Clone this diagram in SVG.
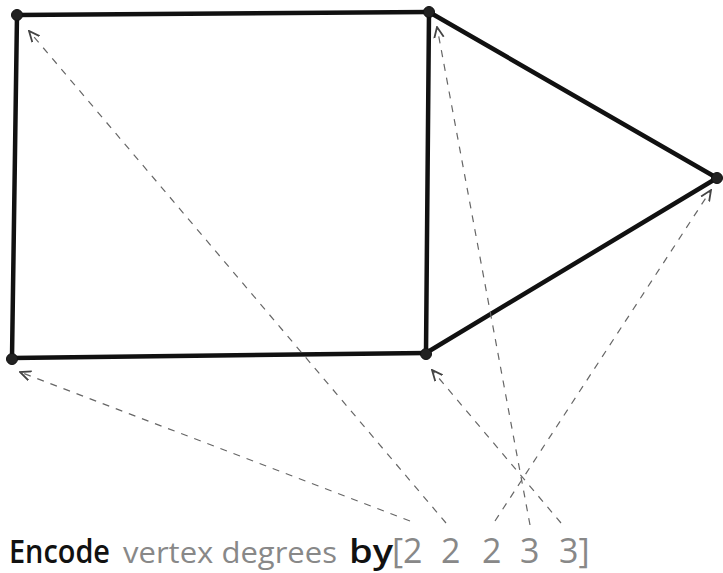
<svg xmlns="http://www.w3.org/2000/svg" width="723" height="573" viewBox="0 0 723 573">
<defs>
<style>
.edge{stroke:#111;stroke-width:4.5;stroke-linecap:round;fill:none}
.node{fill:#222;stroke:#111;stroke-width:1}
.arr{stroke:#666;stroke-width:1.2;stroke-dasharray:7 7;fill:none;marker-end:url(#ah)}
.t{font-family:"Open Sans","Noto Sans",sans-serif}
.dark{fill:#111;font-weight:600}
.light{fill:#888;font-weight:400}
</style>
<marker id="ah" viewBox="0 0 10 10" refX="9" refY="5" markerWidth="12" markerHeight="12" markerUnits="userSpaceOnUse" orient="auto">
<path d="M0,1 L9,5 L0,9" fill="none" stroke="#444" stroke-width="1.5"/>
</marker>
</defs>
<rect width="723" height="573" fill="#fff"/>
<g id="edges">
<line class="edge" x1="17" y1="15" x2="429" y2="12"/>
<line class="edge" x1="17" y1="15" x2="12" y2="358"/>
<line class="edge" x1="12" y1="358" x2="426" y2="353"/>
<line class="edge" x1="429" y1="12" x2="426" y2="353"/>
<line class="edge" x1="429" y1="12" x2="717" y2="178"/>
<line class="edge" x1="426" y1="353" x2="717" y2="178"/>
</g>
<g id="connectors">
<line class="arr" x1="410" y1="521" x2="20" y2="372"/>
<line class="arr" x1="446" y1="523" x2="29" y2="31"/>
<line class="arr" x1="495" y1="521" x2="711" y2="190"/>
<line class="arr" x1="530" y1="525" x2="437" y2="27"/>
<line class="arr" x1="561" y1="523" x2="432" y2="370"/>
</g>
<g id="n-top-left"><circle class="node" cx="17" cy="15" r="5.5"/></g>
<g id="n-top-right"><circle class="node" cx="429" cy="12" r="5.5"/></g>
<g id="n-apex"><circle class="node" cx="717" cy="178" r="5.5"/></g>
<g id="n-bottom-right"><circle class="node" cx="426" cy="354" r="5.5"/></g>
<g id="n-bottom-left"><circle class="node" cx="12" cy="359" r="5.5"/></g>
<g id="caption">
<text class="t dark" x="9" y="563" font-size="32" textLength="101" lengthAdjust="spacingAndGlyphs">Encode</text>
<text class="t light" x="123" y="563" font-size="30" textLength="214" lengthAdjust="spacingAndGlyphs">vertex degrees</text>
<text class="t dark" x="349" y="563" font-size="32" textLength="44" lengthAdjust="spacingAndGlyphs">by</text>
<text class="t light" x="392" y="563" font-size="34">[2</text>
<text class="t light" x="441" y="563" font-size="34">2</text>
<text class="t light" x="482" y="563" font-size="34">2</text>
<text class="t light" x="520" y="563" font-size="34">3</text>
<text class="t light" x="559" y="563" font-size="34">3]</text>
</g>
</svg>
